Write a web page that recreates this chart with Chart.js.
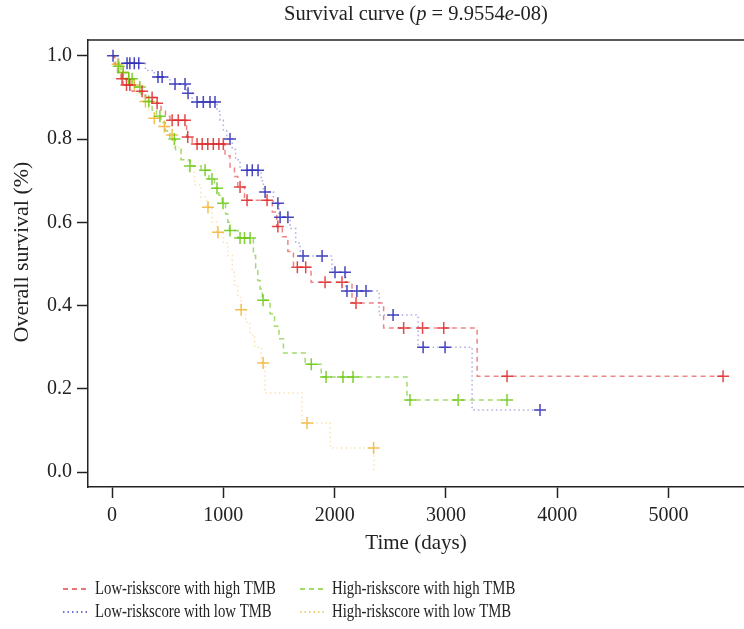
<!DOCTYPE html>
<html>
<head>
<meta charset="utf-8">
<script src="https://cdn.jsdelivr.net/npm/chart.js@4/dist/chart.umd.min.js"></script>
<style>
html,body{margin:0;padding:0;background:#fff;}
canvas{display:block;}
</style>
</head>
<body>
<canvas id="c" width="744" height="629"></canvas>
<script>
// ---------- data ----------
const xTicks = [0, 1000, 2000, 3000, 4000, 5000];
const yTicks = [0, 0.2, 0.4, 0.6, 0.8, 1.0];

const seriesNames = [
  "Low-riskscore with high TMB",
  "Low-riskscore with low TMB",
  "High-riskscore with high TMB",
  "High-riskscore with low TMB"
];

// Low-riskscore with high TMB (red)
const redT = [0,20,50,80,100,180,300,400,440,480,520,670,720,1015,1060,1100,1130,1190,1440,1480,1530,1580,1630,1788,2156,2440,3280,5490];
const redS = [1,0.98,0.96,0.945,0.93,0.915,0.90,0.886,0.87,0.855,0.845,0.805,0.788,0.76,0.733,0.71,0.685,0.653,0.625,0.59,0.565,0.53,0.492,0.456,0.406,0.346,0.23,0.23];
const redCT = [90,130,160,270,360,405,540,595,655,680,764,810,860,910,960,1000,1150,1213,1393,1490,1665,1740,1914,2066,2192,2620,2790,2980,3549,5490];
const redCS = [0.945,0.93,0.93,0.915,0.90,0.886,0.845,0.845,0.845,0.805,0.788,0.788,0.788,0.788,0.788,0.788,0.685,0.653,0.653,0.59,0.492,0.492,0.456,0.456,0.406,0.346,0.346,0.346,0.23,0.23];

// Low-riskscore with low TMB (blue)
const blueT = [0,60,300,380,520,670,720,943,970,1000,1030,1080,1110,1150,1340,1360,1450,1500,1600,1650,1690,1976,2100,2400,2750,3235,3845];
const blueS = [1,0.982,0.965,0.949,0.932,0.91,0.889,0.867,0.845,0.82,0.80,0.775,0.75,0.725,0.70,0.673,0.646,0.612,0.585,0.55,0.519,0.48,0.435,0.377,0.30,0.149,0.149];
const blueCT = [9,135,160,200,240,413,450,566,656,683,764,820,880,925,1060,1213,1260,1312,1375,1490,1510,1580,1716,1887,2003,2093,2111,2200,2282,2525,2795,2992,3845];
const blueCS = [1,0.982,0.982,0.982,0.982,0.949,0.949,0.932,0.932,0.91,0.889,0.889,0.889,0.889,0.80,0.725,0.725,0.725,0.673,0.646,0.612,0.612,0.519,0.519,0.48,0.48,0.435,0.435,0.435,0.377,0.30,0.30,0.149];

// High-riskscore with high TMB (green)
const greenT = [0,30,80,130,200,260,300,360,400,440,480,520,570,620,700,800,870,920,960,990,1020,1040,1055,1130,1270,1290,1310,1330,1350,1420,1460,1500,1540,1735,1880,2650,3549];
const greenS = [1,0.975,0.96,0.945,0.925,0.905,0.89,0.87,0.855,0.84,0.82,0.80,0.775,0.75,0.735,0.725,0.704,0.682,0.665,0.646,0.62,0.60,0.58,0.562,0.52,0.49,0.46,0.44,0.413,0.38,0.35,0.32,0.286,0.259,0.228,0.173,0.173];
const greenCT = [60,100,150,180,250,330,430,560,700,836,898,943,997,1060,1150,1190,1240,1357,1790,1923,2075,2165,2677,3110,3549];
const greenCS = [0.975,0.96,0.945,0.945,0.925,0.89,0.855,0.80,0.735,0.725,0.704,0.682,0.646,0.58,0.562,0.562,0.562,0.413,0.259,0.228,0.228,0.228,0.173,0.173,0.173];

// High-riskscore with low TMB (yellow)
const yellowT = [0,30,80,120,180,230,280,330,380,430,500,560,620,680,740,800,850,900,940,1000,1040,1080,1100,1130,1160,1200,1240,1280,1340,1375,1707,1960,2354];
const yellowS = [1,0.98,0.96,0.945,0.93,0.91,0.89,0.87,0.85,0.83,0.81,0.78,0.75,0.72,0.69,0.66,0.636,0.60,0.576,0.55,0.52,0.48,0.45,0.42,0.39,0.36,0.33,0.30,0.262,0.19,0.118,0.058,0];
const yellowCT = [50,100,150,200,300,380,470,540,862,952,1160,1357,1752,2350];
const yellowCS = [0.98,0.96,0.945,0.93,0.89,0.85,0.83,0.81,0.636,0.576,0.39,0.262,0.118,0.058];

// ---------- styles ----------
const FONT = '"Liberation Serif", "DejaVu Serif", serif';
const lineColors  = ['rgba(228,70,70,0.65)','rgba(90,90,205,0.5)','rgba(110,200,30,0.65)','rgba(245,200,110,0.5)'];
const crossColors = ['rgba(222,40,40,0.85)','rgba(50,50,185,0.9)','rgba(105,200,15,0.85)','rgba(240,180,50,0.85)'];
const dashes = [[5,4],[1.5,3],[5,4],[1.5,3]];

function pts(t, s){ return t.map((v,i)=>({x:v, y:s[i]})); }
const steps = [pts(redT,redS), pts(blueT,blueS), pts(greenT,greenS), pts(yellowT,yellowS)];
const cens  = [pts(redCT,redCS), pts(blueCT,blueCS), pts(greenCT,greenCS), pts(yellowCT,yellowCS)];

const datasets = [];
for (let i = 0; i < 4; i++) {
  datasets.push({
    label: seriesNames[i],
    data: steps[i],
    stepped: 'before',
    borderColor: lineColors[i],
    borderWidth: 1.5,
    borderDash: dashes[i],
    pointRadius: 0,
    fill: false,
    order: 2
  });
}
for (let i = 0; i < 4; i++) {
  datasets.push({
    label: seriesNames[i] + ' censored',
    data: cens[i],
    showLine: false,
    pointStyle: 'cross',
    pointRadius: 6,
    pointBorderWidth: 1.5,
    pointBorderColor: crossColors[i],
    pointBackgroundColor: crossColors[i],
    order: 1
  });
}

const decor = {
  id: 'decor',
  afterDraw(chart) {
    const ctx = chart.ctx;
    const a = chart.chartArea;
    ctx.save();
    // top border of the box
    ctx.strokeStyle = '#222';
    ctx.lineWidth = 1.5;
    ctx.beginPath();
    ctx.moveTo(a.left, a.top);
    ctx.lineTo(a.right, a.top);
    ctx.stroke();

    ctx.fillStyle = '#222';
    // title with italic parts
    const parts = [
      ['Survival curve (', false], ['p', true], [' = 9.9554', false], ['e', true], ['-08)', false]
    ];
    const sz = 20.5;
    let total = 0;
    parts.forEach(p => { ctx.font = (p[1] ? 'italic ' : '') + sz + 'px ' + FONT; total += ctx.measureText(p[0]).width; });
    let x = (a.left + a.right) / 2 - total / 2;
    ctx.textBaseline = 'middle';
    ctx.textAlign = 'left';
    parts.forEach(p => { ctx.font = (p[1] ? 'italic ' : '') + sz + 'px ' + FONT; ctx.fillText(p[0], x, 15); x += ctx.measureText(p[0]).width; });

    // axis titles
    ctx.font = '21px ' + FONT;
    ctx.textAlign = 'center';
    ctx.fillText('Time (days)', (a.left + a.right) / 2, 543);
    ctx.save();
    ctx.translate(22, 252);
    ctx.rotate(-Math.PI / 2);
    ctx.font = '22px ' + FONT;
    ctx.fillText('Overall survival (%)', 0, 0);
    ctx.restore();

    // legend (narrow serif look: taller glyphs, horizontally condensed)
    const lx = [63, 300];
    const ly = [589, 612];
    const order = [[0,0,0],[1,0,1],[2,1,0],[3,1,1]];
    const squeeze = 0.82;
    order.forEach(([i, col, row]) => {
      ctx.save();
      ctx.strokeStyle = crossColors[i];
      ctx.lineWidth = 1.3;
      ctx.setLineDash(dashes[i][0] < 2 ? [1.5, 3] : [5, 4]);
      ctx.beginPath();
      ctx.moveTo(lx[col], ly[row]);
      ctx.lineTo(lx[col] + 25, ly[row]);
      ctx.stroke();
      ctx.restore();
      ctx.save();
      ctx.translate(lx[col] + 32, ly[row]);
      ctx.scale(squeeze, 1);
      ctx.font = '18px ' + FONT;
      ctx.textAlign = 'left';
      ctx.textBaseline = 'middle';
      ctx.fillStyle = '#222';
      ctx.fillText(seriesNames[i], 0, 0);
      ctx.restore();
    });
    ctx.restore();
  }
};

new Chart(document.getElementById('c'), {
  type: 'line',
  data: { datasets },
  options: {
    responsive: false,
    animation: false,
    devicePixelRatio: 1,
    layout: { autoPadding: false, padding: { top: 40, left: 0, right: 0, bottom: 0 } },
    plugins: { legend: { display: false }, title: { display: false }, tooltip: { enabled: false } },
    scales: {
      x: {
        type: 'linear',
        min: -216, max: 5678,
        afterBuildTicks(scale) { scale.ticks = xTicks.map(v => ({ value: v })); },
        afterFit(scale) { scale.height = 142; scale.paddingLeft = 0; scale.paddingRight = 0; },
        border: { display: true, color: '#222', width: 1.5 },
        grid: { drawOnChartArea: false, drawTicks: true, tickLength: 11, tickColor: '#222', tickWidth: 1.5 },
        ticks: { color: '#222', font: { family: FONT, size: 20 }, padding: 6, maxRotation: 0, autoSkip: false,
                 callback: v => String(v) }
      },
      y: {
        type: 'linear',
        min: -0.036, max: 1.038,
        afterBuildTicks(scale) { scale.ticks = yTicks.map(v => ({ value: v })); },
        afterFit(scale) { scale.width = 88; scale.paddingTop = 0; scale.paddingBottom = 0; },
        border: { display: true, color: '#222', width: 1.5 },
        grid: { drawOnChartArea: false, drawTicks: true, tickLength: 11, tickColor: '#222', tickWidth: 1.5 },
        ticks: { color: '#222', font: { family: FONT, size: 20 }, padding: 5, autoSkip: false,
                 callback: v => Number(v).toFixed(1) }
      }
    }
  },
  plugins: [decor]
});
</script>
</body>
</html>
